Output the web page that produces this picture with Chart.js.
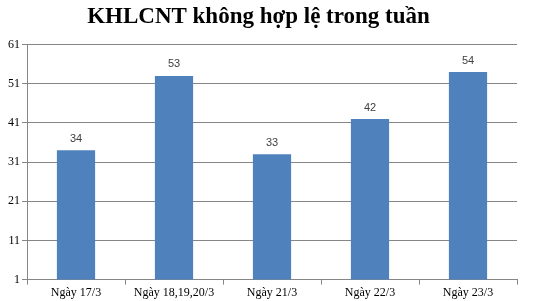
<!DOCTYPE html>
<html>
<head>
<meta charset="utf-8">
<script src="https://cdn.jsdelivr.net/npm/chart.js@4"></script>
<style>
  html, body { margin: 0; padding: 0; background: #ffffff; }
  #wrap { width: 535px; height: 301px; }
</style>
</head>
<body>
<div id="wrap"><canvas id="chart" width="535" height="301"></canvas></div>
<script>
// Chart data
const categories = ['Ngày 17/3', 'Ngày 18,19,20/3', 'Ngày 21/3', 'Ngày 22/3', 'Ngày 23/3'];
const counts = [34, 53, 33, 42, 54];
const yTicks = [1, 11, 21, 31, 41, 51, 61];

const BAR_COLOR = '#4f81bd';
const GRID_COLOR = '#868686';

// Draw the value above each bar
const valueLabels = {
    id: 'valueLabels',
    afterDatasetsDraw(chart) {
        const ctx = chart.ctx;
        const meta = chart.getDatasetMeta(0);
        ctx.save();
        ctx.font = '11px "Liberation Sans", Arial, sans-serif';
        ctx.fillStyle = '#404040';
        ctx.textAlign = 'center';
        ctx.textBaseline = 'bottom';
        meta.data.forEach((bar, i) => {
            ctx.fillText(String(counts[i]), bar.x, bar.y - 6);
        });
        ctx.restore();
    }
};

new Chart(document.getElementById('chart').getContext('2d'), {
    type: 'bar',
    data: {
        labels: categories,
        datasets: [{
            data: counts,
            backgroundColor: BAR_COLOR,
            borderWidth: 0,
            categoryPercentage: 1,
            barPercentage: 0.39
        }]
    },
    options: {
        responsive: false,
        animation: false,
        events: [],
        layout: { padding: { left: 0, right: 18, top: 0, bottom: 0 } },
        plugins: {
            legend: { display: false },
            tooltip: { enabled: false },
            title: {
                display: true,
                text: 'KHLCNT không hợp lệ trong tuần',
                color: '#000000',
                font: { family: '"Liberation Serif", "Times New Roman", serif', size: 23, weight: 'bold' },
                padding: { top: 3, bottom: 14 }
            }
        },
        scales: {
            x: {
                grid: {
                    drawOnChartArea: false,
                    drawTicks: true,
                    tickLength: 5,
                    color: GRID_COLOR
                },
                border: { color: GRID_COLOR },
                ticks: {
                    color: '#000000',
                    font: { family: '"Liberation Serif", "Times New Roman", serif', size: 12 },
                    maxRotation: 0,
                    padding: 1
                }
            },
            y: {
                min: 1,
                max: 61,
                afterBuildTicks(scale) {
                    scale.ticks = yTicks.map(v => ({ value: v }));
                },
                afterFit(scale) {
                    scale.width = 27;
                },
                grid: {
                    color: GRID_COLOR,
                    tickLength: 5
                },
                border: { color: GRID_COLOR },
                ticks: {
                    color: '#000000',
                    font: { family: '"Liberation Serif", "Times New Roman", serif', size: 12 },
                    padding: 2
                }
            }
        }
    },
    plugins: [valueLabels]
});
</script>
</body>
</html>
